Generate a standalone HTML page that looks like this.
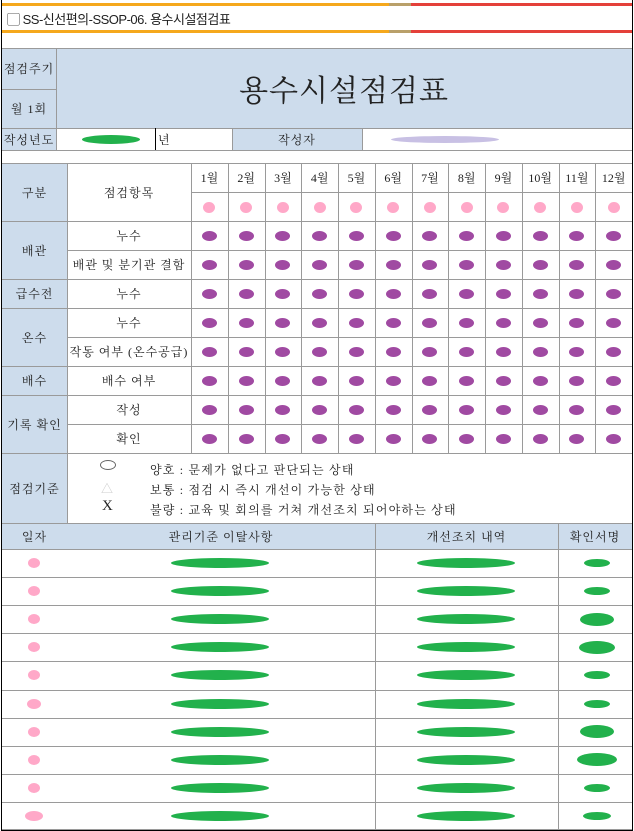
<!DOCTYPE html>
<html><head><meta charset="utf-8">
<style>
body{margin:0;width:634px;height:831px;position:relative;background:#fff;font-family:"Liberation Serif","Noto Serif CJK SC","Noto Sans CJK KR",serif;color:#222;overflow:hidden}
.a{position:absolute;box-sizing:border-box}
.c{display:flex;align-items:center;justify-content:center;font-size:12px;letter-spacing:1px;white-space:nowrap}
.bl{background:#cddcec}
.hl{position:absolute;height:1px;background:#9a9a9a}
.vl{position:absolute;width:1px;background:#9a9a9a}
.dot{position:absolute;border-radius:50%}
.crit{font-size:12px;letter-spacing:1.2px;white-space:nowrap}
</style></head><body>
<div class="a" style="left:1px;top:0;width:632px;height:831px;border-left:1px solid #000;border-right:1px solid #000;border-bottom:1px solid #000"></div>
<div class="a" style="left:2px;top:3px;width:387px;height:3px;background:#f5a81c"></div>
<div class="a" style="left:389px;top:3px;width:22px;height:3px;background:#b9a06a"></div>
<div class="a" style="left:411px;top:3px;width:221px;height:3px;background:#e4403a"></div>
<div class="a" style="left:7px;top:9px;font-family:'Liberation Sans','Noto Sans CJK KR',sans-serif;font-size:13px;letter-spacing:-0.5px">▢ SS-신선편의-SSOP-06. 용수시설점검표</div>
<div class="a" style="left:2px;top:30px;width:387px;height:3px;background:#f5a81c"></div>
<div class="a" style="left:389px;top:30px;width:22px;height:3px;background:#b9a06a"></div>
<div class="a" style="left:411px;top:30px;width:221px;height:3px;background:#e4403a"></div>

<div class="a bl" style="left:2px;top:48px;width:630px;height:80px"></div>
<div class="a c" style="left:2px;top:48px;width:54px;height:41px">점검주기</div>
<div class="a c" style="left:2px;top:89px;width:54px;height:39px">월 1회</div>
<div class="a c" style="left:56px;top:48px;width:576px;height:80px;font-size:30px;letter-spacing:1px">용수시설점검표</div>
<div class="a bl" style="left:2px;top:128px;width:54px;height:22px"></div>
<div class="a c" style="left:2px;top:128px;width:54px;height:22px">작성년도</div>
<div class="a dot" style="left:82px;top:135px;width:58px;height:9px;background:#22b14c"></div>
<div class="a" style="left:158px;top:131px;font-size:12px">년</div>
<div class="a bl c" style="left:232px;top:128px;width:130px;height:22px">작성자</div>
<div class="a dot" style="left:391px;top:136px;width:108px;height:7px;background:#c8c0e4"></div>
<div class="hl" style="left:2px;top:48px;width:630px"></div>
<div class="hl" style="left:2px;top:89px;width:54px"></div>
<div class="hl" style="left:2px;top:128px;width:630px"></div>
<div class="hl" style="left:2px;top:150px;width:630px"></div>
<div class="vl" style="left:56px;top:48px;height:102px"></div>
<div class="vl" style="left:155px;top:128px;height:22px;background:#000"></div>
<div class="vl" style="left:232px;top:128px;height:22px"></div>
<div class="vl" style="left:362px;top:128px;height:22px"></div>

<div id="main"></div>
<div class="a" style="left:100px;top:460px;width:16px;height:10px;border:1px solid #666;border-radius:50%"></div>
<div class="a" style="left:101px;top:480px;font-size:12px;color:#ccc">△</div>
<div class="a" style="left:102px;top:498px;font-size:15px">X</div>
<div class="a crit" style="left:150px;top:461px">양호 : 문제가 없다고 판단되는 상태</div>
<div class="a crit" style="left:150px;top:481px">보통 : 점검 시 즉시 개선이 가능한 상태</div>
<div class="a crit" style="left:150px;top:501px">불량 : 교육 및 회의를 거쳐 개선조치 되어야하는 상태</div>

<script>
const months=['1월','2월','3월','4월','5월','6월','7월','8월','9월','10월','11월','12월'];
const items=['누수','배관 및 분기관 결함','누수','누수','작동 여부 (온수공급)','배수 여부','작성','확인'];
const groups=['배관','급수전','온수','배수','기록 확인'];
const groupSpans=[2,1,2,1,2];
const logRows=10;
const signWidths=[26,26,34,36,26,26,34,40,26,28];
const dateWidths=[12,12,12,12,12,14,12,12,12,18];

const M=document.getElementById('main');
function box(l,t,w,h,cls,txt,name){const d=document.createElement('div');d.className='a '+(cls||'');d.style.cssText=`left:${l}px;top:${t}px;width:${w}px;height:${h}px`;if(txt)d.textContent=txt;


M.appendChild(d);return d;}
function line(l,t,w,h){const d=document.createElement('div');d.className='a';d.style.cssText=`left:${l}px;top:${t}px;width:${w}px;height:${h}px;background:#9a9a9a`;M.appendChild(d);}
function dot(cx,cy,w,h,col,name){const d=document.createElement('div');d.className='dot';d.style.cssText=`left:${cx-w/2}px;top:${cy-h/2}px;width:${w}px;height:${h}px;background:${col}`;


M.appendChild(d);}
const T=163,RH=29,X0=2,X1=67,X2=191,XE=632,CW=(XE-X2)/12;
box(X0,T,X1-X0,453-T,'bl','', 'category-column-bg');
box(X0,453,X1-X0,70,'bl c','점검기준','criteria-label');
box(X0,T,X1-X0,58,'c','구분','category-header');
box(X1,T,X2-X1,58,'c','점검항목','item-header');
months.forEach((m,i)=>{box(X2+i*CW,T,CW,29,'c',m,'month-header').style.letterSpacing='0';dot(X2+(i+.5)*CW,T+44,12,11,'#ffa8c8','month-marker');});
let r=0;
groups.forEach((g,gi)=>{const y=T+58+r*RH;box(X0,y,X1-X0,groupSpans[gi]*RH,'c',g,'group-label');r+=groupSpans[gi];line(X0,y,XE-X0,1);});
items.forEach((it,i)=>{const y=T+58+i*RH;box(X1,y,X2-X1,RH,'c',it,'item-label');line(X1,y,XE-X1,1);
months.forEach((m,j)=>dot(X2+(j+.5)*CW,y+RH/2,15,10,'#a04aa2','check-mark'));});
line(X0,T,XE-X0,1);line(X2,T+29,XE-X2,1);line(X0,453,XE-X0,1);
line(X1,T,1,453-T+70);line(X2,T,1,290);
for(let j=1;j<12;j++)line(X2+j*CW,T,1,290);
const LT=523,LH=26,RR=28.1;
box(X0,LT,XE-X0,LH,'bl','','log-header-bg');
box(X0,LT,X1-X0,LH,'c','일자','date-header');
box(X1,LT,375-X1,LH,'c','관리기준 이탈사항','deviation-header');
box(375,LT,558-375,LH,'c','개선조치 내역','action-header');
box(558,LT,XE-558,LH,'c','확인서명','sign-header');
line(X0,LT,XE-X0,1);
for(let i=0;i<logRows;i++){const y=LT+LH+i*RR;line(X0,y,XE-X0,1);
dot(34,y+RR/2,dateWidths[i],10,'#ffa8c8','log-date');
dot(220,y+RR/2,98,10,'#22b14c','log-deviation');
dot(466,y+RR/2,98,10,'#22b14c','log-action');
dot(597,y+RR/2,signWidths[i],signWidths[i]>30?13:8,'#22b14c','log-sign');}
line(X0,829,XE-X0,1);
line(375,LT,1,306);line(558,LT,1,306);
</script>
</body></html>
